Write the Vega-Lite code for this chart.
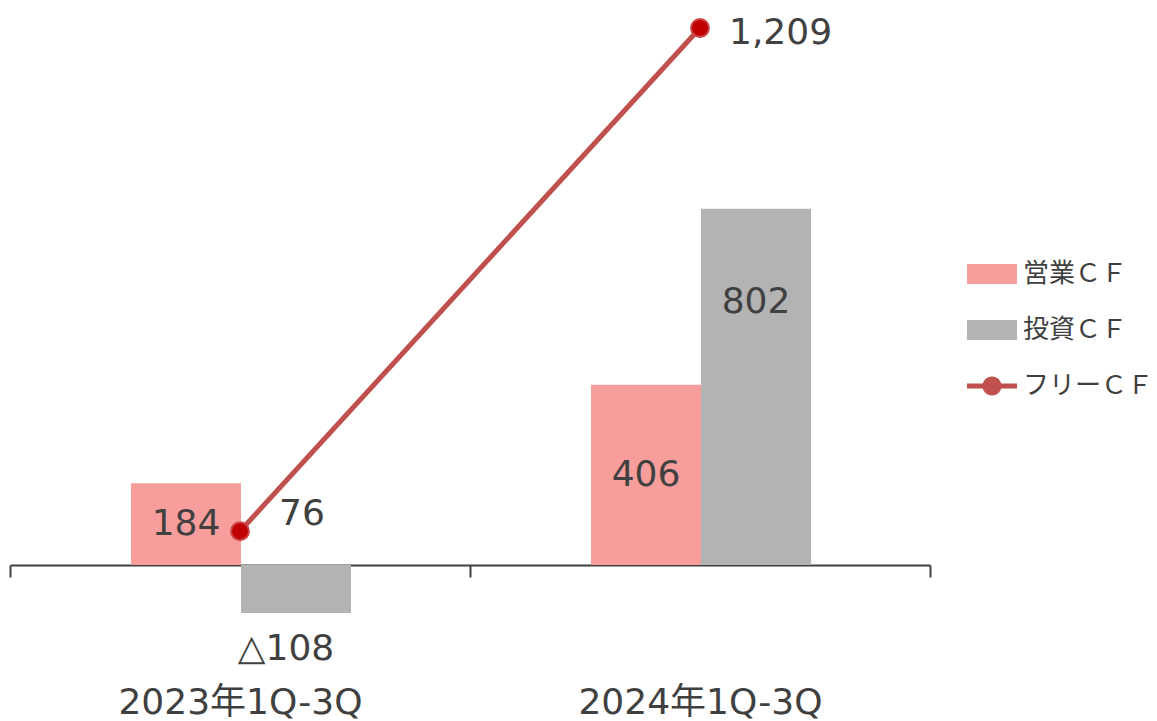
{
  "$schema": "https://vega.github.io/schema/vega-lite/v6.json",
  "autosize": {"type": "none"},
  "width": 920,
  "height": 565,
  "padding": {"left": 10, "top": 0, "right": 227, "bottom": 156},
  "background": "white",
  "config": {
    "view": {"stroke": null},
    "font": "DejaVu Sans, Noto Sans CJK JP",
    "text": {"font": "DejaVu Sans, Noto Sans CJK JP", "fontSize": 36, "fill": "#404040"}
  },
  "data": {
    "values": [
      {"period": "2023年1Q-3Q", "series": "営業ＣＦ", "value": 184},
      {"period": "2023年1Q-3Q", "series": "投資ＣＦ", "value": -108},
      {"period": "2023年1Q-3Q", "series": "フリーＣＦ", "value": 76},
      {"period": "2024年1Q-3Q", "series": "営業ＣＦ", "value": 406},
      {"period": "2024年1Q-3Q", "series": "投資ＣＦ", "value": 802},
      {"period": "2024年1Q-3Q", "series": "フリーＣＦ", "value": 1209}
    ]
  },
  "transform": [
    {"calculate": "datum.value / 2", "as": "mid"},
    {"calculate": "datum.value < 0 ? '△' + format(-datum.value, ',') : format(datum.value, ',')", "as": "label"}
  ],
  "encoding": {
    "x": {
      "field": "period",
      "type": "nominal",
      "sort": null,
      "scale": {"paddingInner": 0, "paddingOuter": 0},
      "axis": {
        "title": null,
        "orient": "bottom",
        "labelAngle": 0,
        "labelLimit": 0,
        "labelFont": "DejaVu Sans, Noto Sans CJK JP",
        "labelFontSize": 36,
        "labelColor": "#404040",
        "labelPadding": 108,
        "domainColor": "#404040",
        "domainWidth": 2,
        "tickColor": "#404040",
        "tickWidth": 2,
        "tickSize": 12,
        "tickBand": "extent",
        "grid": false
      }
    }
  },
  "layer": [
    {
      "transform": [{"filter": "datum.series !== 'フリーＣＦ'"}],
      "mark": {"type": "bar"},
      "encoding": {
        "xOffset": {
          "field": "series",
          "type": "nominal",
          "sort": ["営業ＣＦ", "投資ＣＦ"],
          "scale": {"paddingInner": 0, "paddingOuter": 0, "range": [121, 341]}
        },
        "y": {
          "field": "value",
          "type": "quantitative",
          "scale": {"domain": [0, 1272], "nice": false},
          "axis": null
        },
        "color": {
          "field": "series",
          "type": "nominal",
          "scale": {
            "domain": ["営業ＣＦ", "投資ＣＦ", "フリーＣＦ"],
            "range": ["#F79E9C", "#B3B3B3", "#C0504D"]
          },
          "legend": {
            "title": null,
            "orient": "none",
            "legendX": 957,
            "legendY": 249,
            "padding": 0,
            "rowPadding": 18,
            "labelFont": "DejaVu Sans, Noto Sans CJK JP",
            "labelFontSize": 26,
            "labelLimit": 0,
            "labelColor": "#404040",
            "labelOffset": 6,
            "symbolSize": 2500,
            "symbolStrokeWidth": 0,
            "symbolOpacity": 1,
            "encode": {
              "symbols": {
                "update": {
                  "shape": {"signal": "datum.value === 'フリーＣＦ' ? 'M-1,-0.1H1V0.1H-1Z M0.38,0A0.38,0.38 0 1,1 -0.38,0A0.38,0.38 0 1,1 0.38,0Z' : 'M-1,-0.4H1V0.4H-1Z'"},
                  "fill": {"scale": "color", "field": "value"},
                  "fillOpacity": {"value": 1},
                  "strokeWidth": {"value": 0}
                }
              }
            }
          }
        }
      }
    },
    {
      "transform": [{"filter": "datum.series !== 'フリーＣＦ' && datum.value > 0 && datum.value < 500"}],
      "mark": {"type": "text", "baseline": "middle", "align": "center"},
      "encoding": {
        "xOffset": {"field": "series", "type": "nominal", "sort": ["営業ＣＦ", "投資ＣＦ"], "scale": {"paddingInner": 0, "paddingOuter": 0, "range": [121, 341]}},
        "y": {"field": "mid", "type": "quantitative"},
        "text": {"field": "label"}
      }
    },
    {
      "transform": [{"filter": "datum.series !== 'フリーＣＦ' && datum.value >= 500"}],
      "mark": {"type": "text", "baseline": "middle", "align": "center", "dy": -85},
      "encoding": {
        "xOffset": {"field": "series", "type": "nominal", "sort": ["営業ＣＦ", "投資ＣＦ"], "scale": {"paddingInner": 0, "paddingOuter": 0, "range": [121, 341]}},
        "y": {"field": "mid", "type": "quantitative"},
        "text": {"field": "label"}
      }
    },
    {
      "transform": [{"filter": "datum.series !== 'フリーＣＦ' && datum.value < 0"}],
      "mark": {"type": "text", "baseline": "middle", "align": "center", "dy": 36, "dx": -10},
      "encoding": {
        "xOffset": {"field": "series", "type": "nominal", "sort": ["営業ＣＦ", "投資ＣＦ"], "scale": {"paddingInner": 0, "paddingOuter": 0, "range": [121, 341]}},
        "y": {"field": "value", "type": "quantitative"},
        "text": {"field": "label"}
      }
    },
    {
      "transform": [{"filter": "datum.series === 'フリーＣＦ'"}],
      "mark": {"type": "line", "color": "#C0504D", "strokeWidth": 5},
      "encoding": {
        "y": {"field": "value", "type": "quantitative"}
      }
    },
    {
      "transform": [{"filter": "datum.series === 'フリーＣＦ'"}],
      "mark": {"type": "point", "filled": true, "fill": "#C00000", "stroke": "#CC4444", "strokeWidth": 2, "size": 320, "opacity": 1},
      "encoding": {
        "y": {"field": "value", "type": "quantitative"}
      }
    },
    {
      "transform": [{"filter": "datum.series === 'フリーＣＦ' && datum.value < 500"}],
      "mark": {"type": "text", "baseline": "middle", "align": "left", "dx": 39, "dy": -17},
      "encoding": {
        "y": {"field": "value", "type": "quantitative"},
        "text": {"field": "label"}
      }
    },
    {
      "transform": [{"filter": "datum.series === 'フリーＣＦ' && datum.value >= 500"}],
      "mark": {"type": "text", "baseline": "middle", "align": "left", "dx": 29, "dy": 5},
      "encoding": {
        "y": {"field": "value", "type": "quantitative"},
        "text": {"field": "label"}
      }
    }
  ]
}
